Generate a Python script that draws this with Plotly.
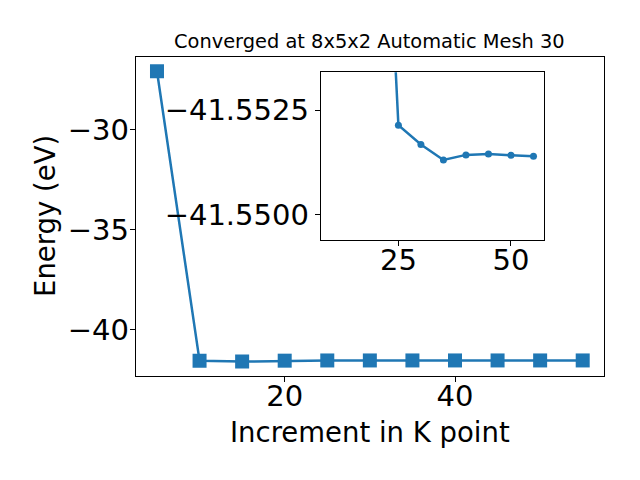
import plotly.graph_objects as go

# Data
kpoints = [5, 10, 15, 20, 25, 30, 35, 40, 45, 50, 55]
energy = [-27.08, -41.57, -41.61, -41.563, -41.55214, -41.55168, -41.55131,
          -41.55143, -41.55145, -41.55142, -41.55140]
main_yticks = [-30, -35, -40]
main_xticks = [20, 40]
inset_xticks = [25, 50]
inset_yticks = [-41.5525, -41.5500]

title_text = "Converged at 8x5x2 Automatic Mesh 30"
xlabel = "Increment in K point"
ylabel = "Energy (eV)"

W, H = 640, 480
BLUE = "#1f77b4"
FONT = "DejaVu Sans"

def px_x(p):
    return p / W

def px_y(p):
    return 1 - p / H

fig = go.Figure()

fig.add_trace(go.Scatter(
    x=kpoints, y=energy, mode="lines+markers",
    line=dict(color=BLUE, width=2.5),
    marker=dict(symbol="square", size=14, color=BLUE),
    xaxis="x", yaxis="y", showlegend=False,
))

fig.add_trace(go.Scatter(
    x=kpoints[1:], y=energy[1:], mode="lines+markers",
    line=dict(color=BLUE, width=2.5),
    marker=dict(symbol="circle", size=7, color=BLUE),
    xaxis="x2", yaxis="y2", showlegend=False,
))

axis_common = dict(
    showline=True, linecolor="black", linewidth=1, mirror=True,
    ticks="outside", ticklen=5, tickwidth=1, tickcolor="black",
    showgrid=False, zeroline=False, automargin=False,
    tickfont=dict(family=FONT, size=29, color="black"),
)

fig.update_layout(
    width=W, height=H,
    margin=dict(l=0, r=0, t=0, b=0, autoexpand=False),
    paper_bgcolor="white", plot_bgcolor="white",
    xaxis=dict(domain=[px_x(135.7), px_x(604)], range=[2.5, 57.5],
               tickvals=main_xticks, anchor="y", ticklabelstandoff=-11,
               **axis_common),
    yaxis=dict(domain=[px_y(376), px_y(56.7)], range=[-42.33, -26.35],
               tickvals=main_yticks, anchor="x", ticklabelstandoff=-5,
               **axis_common),
    xaxis2=dict(domain=[px_x(320.7), px_x(544.3)], range=[7.75, 57.4],
                tickvals=inset_xticks, anchor="y2", ticklabelstandoff=-11,
                **axis_common),
    yaxis2=dict(domain=[px_y(240), px_y(72.3)], range=[-41.5494, -41.5534],
                tickvals=inset_yticks, tickformat=".4f", anchor="x2",
                **axis_common),
    annotations=[
        dict(text=title_text, x=px_x(369.9), y=px_y(41), xref="paper", yref="paper",
             xanchor="center", yanchor="middle", showarrow=False,
             font=dict(family=FONT, size=19.4, color="black")),
        dict(text=xlabel, x=px_x(370), y=px_y(432), xref="paper", yref="paper",
             xanchor="center", yanchor="middle", showarrow=False,
             font=dict(family=FONT, size=27.5, color="black")),
        dict(text=ylabel, x=px_x(45), y=px_y(216), xref="paper", yref="paper",
             xanchor="center", yanchor="middle", showarrow=False, textangle=-90,
             font=dict(family=FONT, size=27.5, color="black")),
    ],
)

fig.write_html("out.html", config={"displayModeBar": False},
               post_script="document.body.style.margin='0';document.body.style.padding='0';")
